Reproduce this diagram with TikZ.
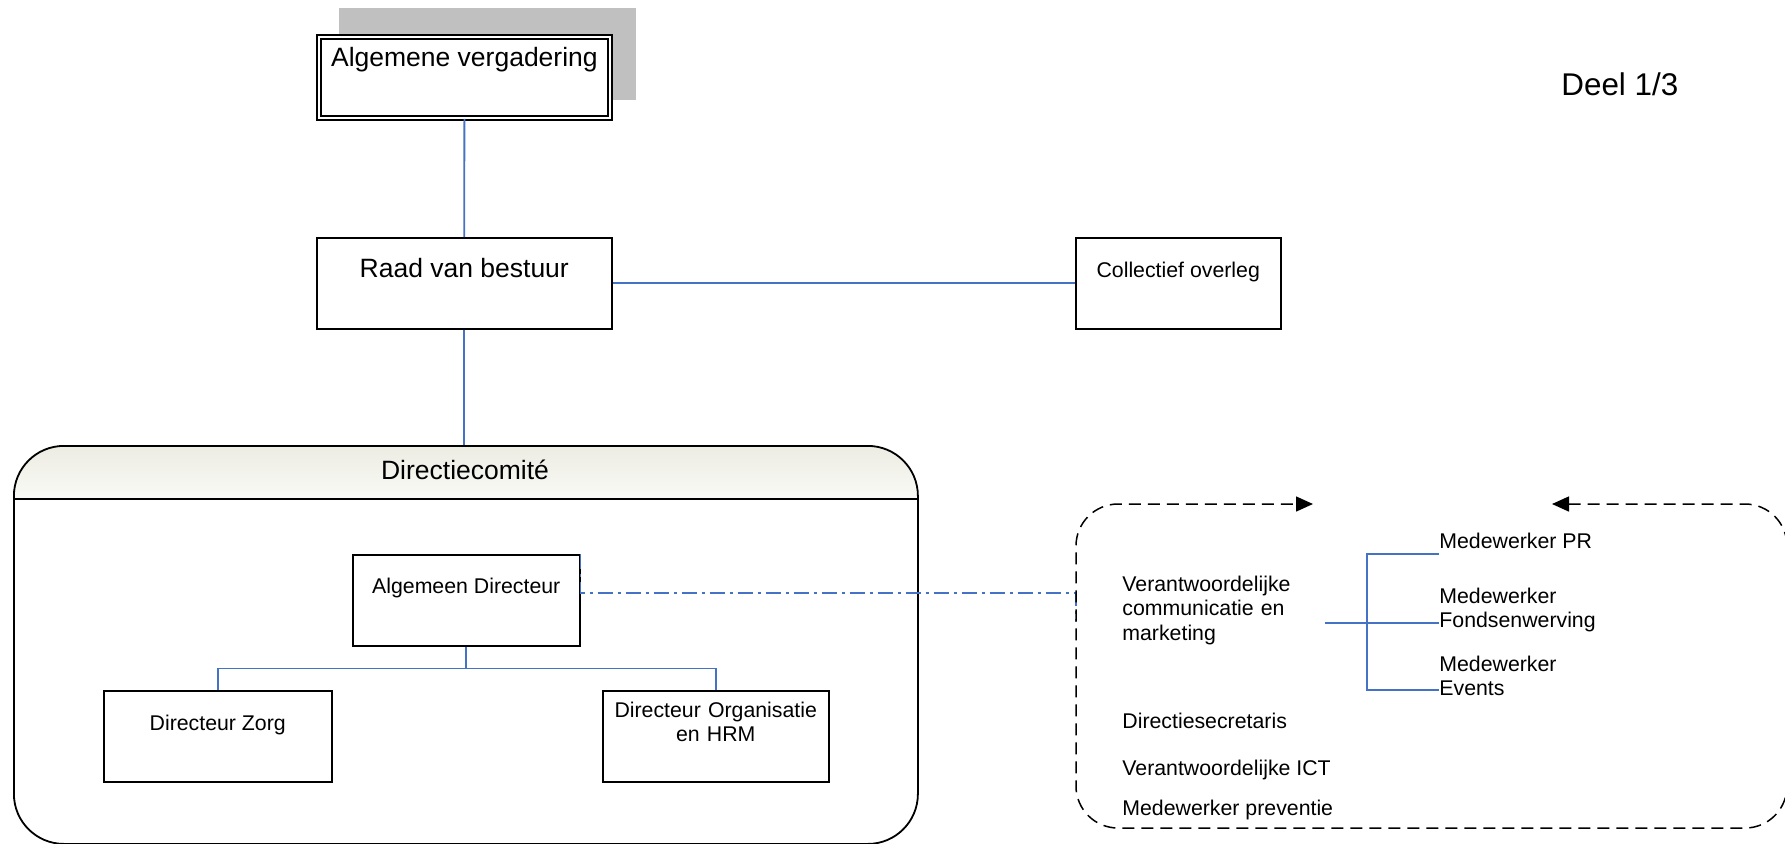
\documentclass[tikz,border=0pt]{standalone}
\usepackage{fontspec}
\setmainfont{Liberation Sans}
\usetikzlibrary{arrows.meta,calc,positioning}

\definecolor{linkblue}{RGB}{68,114,196}
\definecolor{shadowgray}{RGB}{192,192,192}
\definecolor{headtop}{RGB}{236,236,227}
\definecolor{headbottom}{RGB}{250,250,246}

\tikzset{
  box/.style={draw,line width=0.75pt,fill=white,inner sep=0pt,anchor=north west},
  bigtxt/.style={font=\fontsize{13.25}{15}\selectfont,inner sep=0pt},
  smalltxt/.style={font=\fontsize{10.65}{12.4}\selectfont,inner sep=0pt},
  link/.style={draw=linkblue,line width=0.9pt},
  dashdotlink/.style={link,dash pattern=on 7.5pt off 2.5pt on 1.5pt off 2.5pt},
  staff/.style={draw,line width=0.75pt,dash pattern=on 6pt off 3.5pt,rounded corners=21pt}
}

\begin{document}
\begin{tikzpicture}[x=0.5pt,y=-0.5pt]
\useasboundingbox (0,0) rectangle (1785,843);

% Algemene vergadering, Raad van bestuur
\fill[shadowgray] (339,8) rectangle (636,100);
\node[box,double,line width=0.9pt,double distance=1.4pt,minimum width=145.5pt,minimum height=40.5pt] at(318,36) (av) {};
\node[bigtxt,anchor=base] at([yshift=-15pt]av.north) (avtxt) {Algemene vergadering};
\node[box,minimum width=147.5pt,minimum height=45.5pt] at(316,237) (rvb) {};
\node[bigtxt,anchor=base] at([yshift=-20pt]rvb.north) (rvbtxt) {Raad van bestuur};
\node[box,minimum width=102.5pt,minimum height=45.5pt] at(1075,237) (co) {};
\node[smalltxt,anchor=base] at([yshift=-20pt]co.north) (cotxt) {Collectief overleg};

% Directiecomite
\coordinate (hdr) at(465,499);
\begin{scope}
\clip[rounded corners=25pt] (13,445) rectangle (917,843);
\shade[top color=headtop,bottom color=headbottom] (13,445) rectangle (917,499);
\end{scope}
\node[draw,line width=0.9pt,rounded corners=25pt,inner sep=0pt,minimum width=452pt,minimum height=199pt,anchor=north west] at(13,445) (dc) {};
\draw[line width=0.9pt] (dc.west |- hdr) -- (dc.east |- hdr);
\node[bigtxt,anchor=base] at(465,479) (dctxt) {Directiecomité};

\node[box,minimum width=113.5pt,minimum height=45.5pt] at(352,554) (ad) {};
\node[smalltxt,anchor=base] at([yshift=-19.5pt]ad.north) (adtxt) {Algemeen Directeur};
\node[box,minimum width=114pt,minimum height=45.5pt] at(103,690) (dz) {};
\node[smalltxt,anchor=base] at([yshift=-20pt]dz.north) (dztxt) {Directeur Zorg};
\node[box,minimum width=113pt,minimum height=45.5pt] at(602,690) (dohrm) {};
\node[smalltxt,anchor=base,text width=110pt,align=center] at([yshift=-13.5pt]dohrm.north) (dohrmtxt) {Directeur Organisatie\\en HRM};

% Staf
\node[smalltxt,anchor=base west,text width=101pt,align=left] at(1122,591) (vcm) {Verantwoordelijke\\communicatie en\\marketing};
\node[smalltxt,anchor=base west] at(1122,728) (dsec) {Directiesecretaris};
\node[smalltxt,anchor=base west] at(1122,775) (ict) {Verantwoordelijke ICT};
\node[smalltxt,anchor=base west] at(1122,815) (prev) {Medewerker preventie};
\node[smalltxt,anchor=base west] at(1439,548) (mpr) {Medewerker PR};
\node[smalltxt,anchor=base west,text width=85pt,align=left] at(1439,603) (mfw) {Medewerker\\Fondsenwerving};
\node[smalltxt,anchor=base west,text width=85pt,align=left] at(1439,671) (mev) {Medewerker\\Events};

\node[font=\fontsize{15.7}{18}\selectfont,inner sep=0pt,anchor=base west] at(1561,95) (deel) {Deel 1/3};

% Connections
\coordinate (fork) at(1367,623);
\coordinate (prin) at(1439,554);
\coordinate (evin) at(1439,690);
\coordinate (ddcorner) at(1076,593);
\coordinate (staffin) at(1076,622);

\draw[link] (av.south) -- (rvb.north);
\draw[link] (rvb.east) -- (co.west);
\draw[link] (rvb.south) -- (rvb.south |- dc.north);
\draw[link] (ad.south) -- ++(0,22) coordinate (split) -| (dz.north);
\draw[link] (split) -| (dohrm.north);
\draw[dashdotlink] (ad.north east) |- (ddcorner) -- (staffin);
\draw[link] (vcm.east |- fork) -- (mfw.west |- fork);
\draw[link] (prin) -| (fork) |- (evin);

\draw[staff,{Triangle[length=8.5pt,width=7.5pt]}-{Triangle[length=8.5pt,width=7.5pt]}] (1552,504) -- (1787,504) -- (1787,828) -- (1076,828) -- (1076,504) -- (1313,504);

\end{tikzpicture}
\end{document}
